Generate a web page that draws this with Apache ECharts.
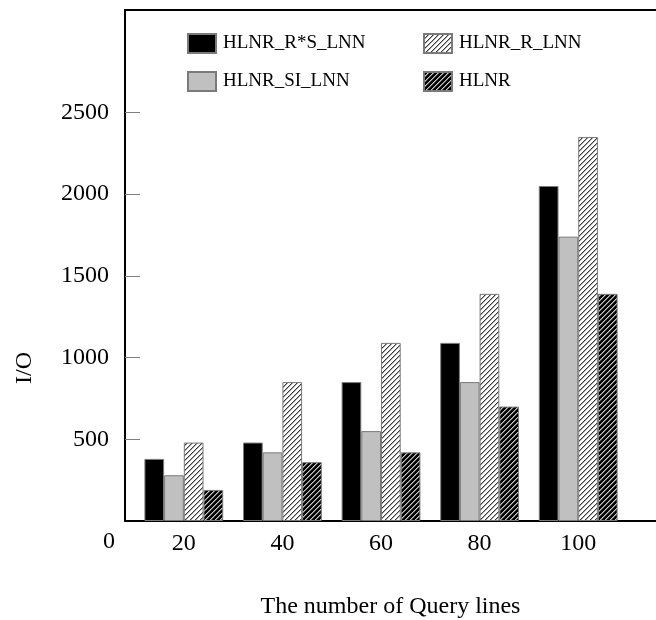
<!DOCTYPE html>
<html>
<head>
<meta charset="utf-8">
<script src="https://cdn.jsdelivr.net/npm/echarts@6/dist/echarts.min.js"></script>
<style>
  html, body { margin: 0; padding: 0; background: #fff; }
  #chart { width: 656px; height: 620px; }
</style>
</head>
<body>
<div id="chart"></div>
<script>
// Number of query lines on the x axis
const queryLines = [20, 40, 60, 80, 100];
const seriesNames = ['HLNR_R*S_LNN', 'HLNR_SI_LNN', 'HLNR_R_LNN', 'HLNR'];
// I/O cost per method
const ioRSLNN = [380, 480, 850, 1090, 2050];
const ioSILNN = [280, 420, 550, 850, 1740];
const ioRLNN  = [480, 850, 1090, 1390, 2350];
const ioHLNR  = [190, 360, 420, 700, 1390];
const yTickValues = [500, 1000, 1500, 2000, 2500];
const yLabelValues = [0, 500, 1000, 1500, 2000, 2500];

const FONT = '"Liberation Serif", "Times New Roman", serif';

// Diagonal hatch tile used as a bar fill
function hatch(bg, line, soft) {
  const n = 5;
  const c = document.createElement('canvas');
  c.width = n; c.height = n;
  const g = c.getContext('2d');
  g.fillStyle = bg; g.fillRect(0, 0, n, n);
  for (let i = 0; i < n; i++) {
    g.fillStyle = line; g.fillRect(i, n - 1 - i, 1, 1);
    g.fillStyle = soft; g.fillRect((i + 1) % n, n - 1 - i, 1, 1);
  }
  return { image: c, repeat: 'repeat' };
}

const fills = [
  '#000000',
  '#c0c0c0',
  hatch('#ffffff', '#3a3a3a', '#a8a8a8'),
  hatch('#000000', '#c8c8c8', '#6a6a6a')
];
const values = [ioRSLNN, ioSILNN, ioRLNN, ioHLNR];

const chart = echarts.init(document.getElementById('chart'), null, { renderer: 'canvas' });

const series = seriesNames.map((name, k) => ({
  name: name,
  type: 'bar',
  barWidth: 19.7,
  barGap: '0%',
  data: values[k].map((v, i) => [queryLines[i], v]),
  itemStyle: { color: fills[k], borderColor: '#7a7a7a', borderWidth: 1 },
  emphasis: { disabled: true },
  animation: false
}));

const legendBase = {
  orient: 'vertical',
  top: 33,
  padding: 0,
  itemWidth: 28,
  itemHeight: 19,
  itemGap: 17,
  icon: 'rect',
  selectedMode: false,
  textStyle: { fontFamily: FONT, fontSize: 19, color: '#000', padding: [0, 0, 0, 2] }
};

chart.setOption({
  animation: false,
  backgroundColor: '#fff',
  grid: { left: 125, right: 0, top: 10, bottom: 99, containLabel: false, outerBoundsMode: 'none' },
  legend: [
    Object.assign({}, legendBase, { left: 187, data: [seriesNames[0], seriesNames[1]] }),
    Object.assign({}, legendBase, { left: 423, data: [seriesNames[2], seriesNames[3]] })
  ],
  xAxis: [{
    type: 'value',
    min: 8.07,
    max: 115.78,
    position: 'bottom',
    name: 'The number of Query lines',
    nameLocation: 'middle',
    nameGap: 74,
    nameTextStyle: { fontFamily: FONT, fontSize: 24, color: '#000' },
    axisLine: { show: true, onZero: false, lineStyle: { color: '#000', width: 2 } },
    axisTick: { show: false },
    splitLine: { show: false },
    axisLabel: {
      customValues: queryLines,
      margin: 11,
      fontFamily: FONT, fontSize: 24, color: '#000'
    }
  }, {
    type: 'value',
    min: 8.07,
    max: 115.78,
    position: 'top',
    axisLine: { show: true, onZero: false, lineStyle: { color: '#000', width: 2 } },
    axisTick: { show: false },
    axisLabel: { show: false },
    splitLine: { show: false }
  }],
  yAxis: {
    type: 'value',
    min: 0,
    max: 3127,
    name: 'I/O',
    nameLocation: 'middle',
    nameRotate: 90,
    nameGap: 88,
    nameTextStyle: { fontFamily: FONT, fontSize: 24, color: '#000', padding: [0, 205, 0, 0] },
    axisLine: { show: true, lineStyle: { color: '#000', width: 2 } },
    axisTick: {
      show: true, inside: true, length: 15,
      customValues: yTickValues,
      lineStyle: { color: '#808080', width: 1 }
    },
    splitLine: { show: false },
    axisLabel: {
      customValues: yLabelValues,
      margin: 10,
      fontFamily: FONT, fontSize: 24, color: '#000',
      formatter: v => v === 0 ? '{z|0}' : '{n|' + v + '}',
      rich: {
        z: { fontFamily: FONT, fontSize: 24, color: '#000', padding: [42, 0, 0, 0] },
        n: { fontFamily: FONT, fontSize: 24, color: '#000', padding: [0, 6, 0, 0] }
      }
    }
  },
  series: series
});
</script>
</body>
</html>
